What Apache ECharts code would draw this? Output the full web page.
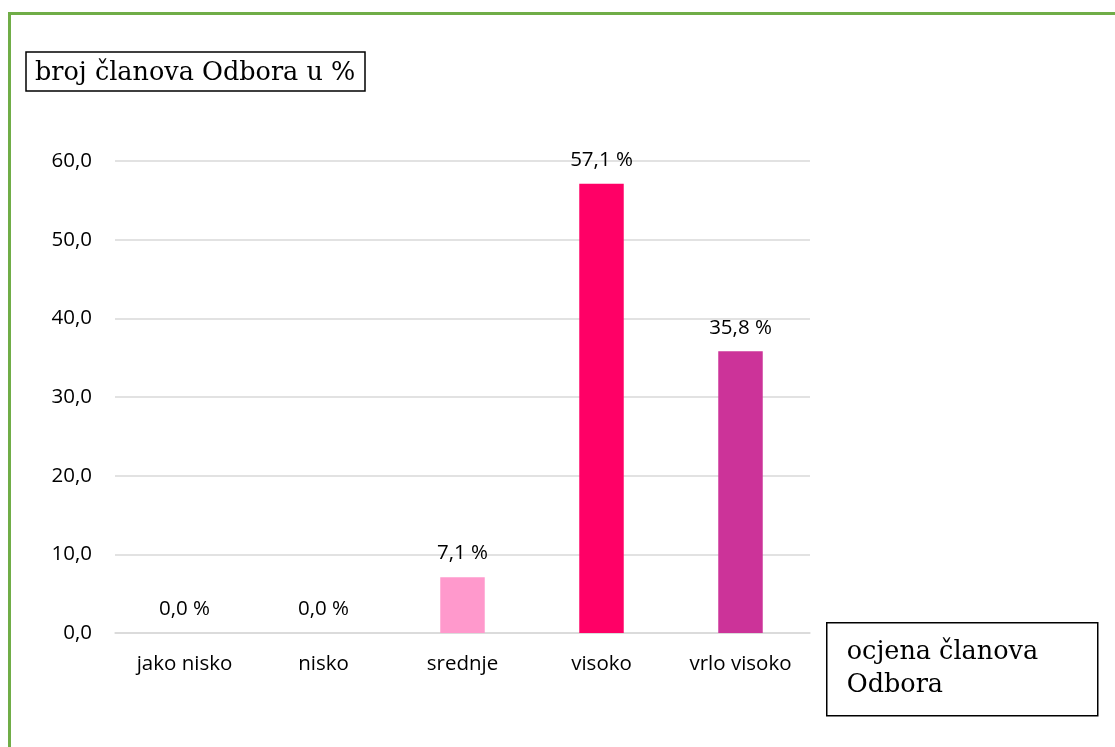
<!DOCTYPE html>
<html>
<head>
<meta charset="utf-8">
<script src="https://cdn.jsdelivr.net/npm/echarts@6/dist/echarts.min.js"></script>
<style>
  html, body { margin: 0; padding: 0; background: #fff; }
  #chart { width: 1115px; height: 747px; }
</style>
</head>
<body>
<div id="chart"></div>
<script>
// Rating categories and share of committee members (%)
const categories = ['jako nisko', 'nisko', 'srednje', 'visoko', 'vrlo visoko'];
const values = [0.0, 0.0, 7.1, 57.1, 35.8];
const barColors = ['#FF99CC', '#FF99CC', '#FF99CC', '#FF0066', '#CC3399'];
const yTicks = { min: 0, max: 60, interval: 10 };
const titleText = 'broj članova Odbora u %';
const xNameLines = ['ocjena članova', 'Odbora'];

const fmt = v => v.toFixed(1).replace('.', ',');
const labelFont = 'Open Sans, Noto Sans, sans-serif';
const serifFont = 'DejaVu Serif, Liberation Serif, serif';

const chart = echarts.init(document.getElementById('chart'));
chart.setOption({
  backgroundColor: '#ffffff',
  animation: false,
  title: {
    text: titleText,
    left: 26,
    top: 52,
    padding: [8, 10, 5, 9],
    borderColor: '#000',
    borderWidth: 1.5,
    textStyle: { fontFamily: serifFont, fontWeight: 'normal', fontSize: 25.5, color: '#000' }
  },
  grid: { left: 115, right: 305, top: 161, bottom: 114, containLabel: false },
  xAxis: {
    type: 'category',
    data: categories,
    axisLine: { show: true, lineStyle: { color: '#D9D9D9', width: 1.5 } },
    axisTick: { show: false },
    axisLabel: { margin: 21, fontFamily: labelFont, fontSize: 20.5, color: '#000' }
  },
  yAxis: {
    type: 'value',
    min: yTicks.min,
    max: yTicks.max,
    interval: yTicks.interval,
    axisLine: { show: false },
    axisTick: { show: false },
    splitLine: { lineStyle: { color: '#D9D9D9', width: 1.5 } },
    axisLabel: { margin: 23, fontFamily: labelFont, fontSize: 20.5, color: '#000', formatter: v => fmt(v) }
  },
  series: [{
    type: 'bar',
    barWidth: '32%',
    data: values.map((v, i) => ({ value: v, itemStyle: { color: barColors[i] } })),
    label: {
      show: true,
      position: 'top',
      distance: 13,
      fontFamily: labelFont,
      fontSize: 20.5,
      color: '#000',
      formatter: p => fmt(p.value) + ' %'
    }
  }],
  graphic: [
    {
      type: 'rect',
      silent: true,
      shape: { x: 9.5, y: 13.5, width: 1300, height: 900 },
      style: { fill: 'none', stroke: '#70AD47', lineWidth: 3 }
    },
    {
      type: 'group',
      left: 826,
      top: 622,
      children: [
        {
          type: 'rect',
          shape: { x: 0, y: 0, width: 271, height: 93 },
          style: { fill: '#fff', stroke: '#000', lineWidth: 1.5 }
        },
        {
          type: 'text',
          x: 20,
          y: 13,
          style: {
            text: xNameLines.join('\n'),
            fontFamily: serifFont,
            fontSize: 25.5,
            lineHeight: 33,
            fill: '#000'
          }
        }
      ]
    }
  ]
});
</script>
</body>
</html>
